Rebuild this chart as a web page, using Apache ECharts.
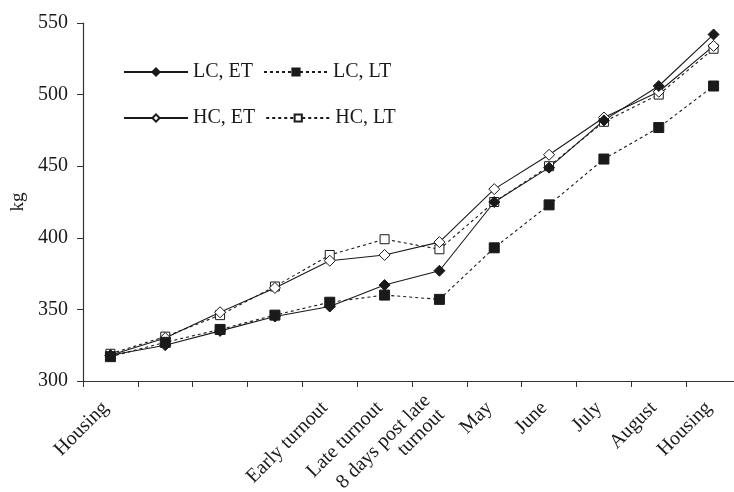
<!DOCTYPE html>
<html>
<head>
<meta charset="utf-8">
<script src="https://cdn.jsdelivr.net/npm/echarts@6/dist/echarts.min.js"></script>
<style>html,body{margin:0;padding:0;background:#fff;}#c{width:734px;height:492px;}</style>
</head>
<body>
<div id="c"></div>
<script>
const categories = ['Housing', '', '', '', 'Early turnout', 'Late turnout', '8 days post late\nturnout', 'May', 'June', 'July', 'August', 'Housing'];
const lcEt = [318, 325, 335, 345, 352, 367, 377, 425, 449, 482, 506, 542];
const lcLt = [317, 327, 336, 346, 355, 360, 357, 393, 423, 455, 477, 506];
const hcEt = [318, 330, 348, 365, 384, 388, 397, 434, 458, 484, 502, 534];
const hcLt = [319, 331, 346, 366, 388, 399, 392, 425, 450, 481, 500, 532];
const yTicks = { min: 300, max: 550, interval: 50 };

const font = 'Liberation Serif';
const ink = '#1a1a1a';
const chart = echarts.init(document.getElementById('c'));

function mk(name, data, symbol, filled, dashed, size) {
  return {
    name: name, type: 'line', data: data,
    symbol: symbol, symbolSize: size,
    showSymbol: true,
    lineStyle: { color: ink, width: 1.1, type: dashed ? [3, 3] : 'solid' },
    itemStyle: { color: filled ? ink : '#fff', borderColor: ink, borderWidth: 1 },
    emphasis: { disabled: true },
    animation: false
  };
}

const legendCommon = {
  left: 118, itemWidth: 64, itemHeight: 9, itemGap: 10,
  textStyle: { fontFamily: font, fontSize: 20, color: ink, width: 71 },
  selectedMode: false
};

chart.setOption({
  backgroundColor: '#fff',
  animation: false,
  grid: { left: 83, top: 23, bottom: 111, width: 658, containLabel: false, outerBoundsMode: 'none' },
  legend: [
    Object.assign({}, legendCommon, { top: 57, data: ['LC, ET', 'LC, LT'] }),
    Object.assign({}, legendCommon, { top: 103, data: ['HC, ET', 'HC, LT'] })
  ],
  xAxis: {
    type: 'category', data: categories, boundaryGap: true,
    axisLine: { lineStyle: { color: '#333', width: 1.2 } },
    axisTick: { show: true, length: 6, alignWithLabel: false, interval: 0, lineStyle: { color: '#333' } },
    axisLabel: { interval: 0, rotate: 45, margin: 19, padding: [0, 7, 0, 0], fontFamily: font, fontSize: 20, color: ink, lineHeight: 20 },
    splitLine: { show: false }
  },
  yAxis: {
    type: 'value', min: yTicks.min, max: yTicks.max, interval: yTicks.interval,
    name: 'kg', nameLocation: 'middle', nameGap: 55,
    nameTextStyle: { fontFamily: font, fontSize: 19, color: ink },
    axisLine: { show: true, lineStyle: { color: '#333', width: 1.2 } },
    axisTick: { show: true, length: 6, lineStyle: { color: '#333' } },
    axisLabel: { margin: 15, fontFamily: font, fontSize: 20, color: ink },
    splitLine: { show: false }
  },
  series: [
    mk('HC, LT', hcLt, 'rect', false, true, 9),
    mk('HC, ET', hcEt, 'diamond', false, false, 11),
    mk('LC, LT', lcLt, 'rect', true, true, 10),
    mk('LC, ET', lcEt, 'diamond', true, false, 11)
  ]
});
</script>
</body>
</html>
